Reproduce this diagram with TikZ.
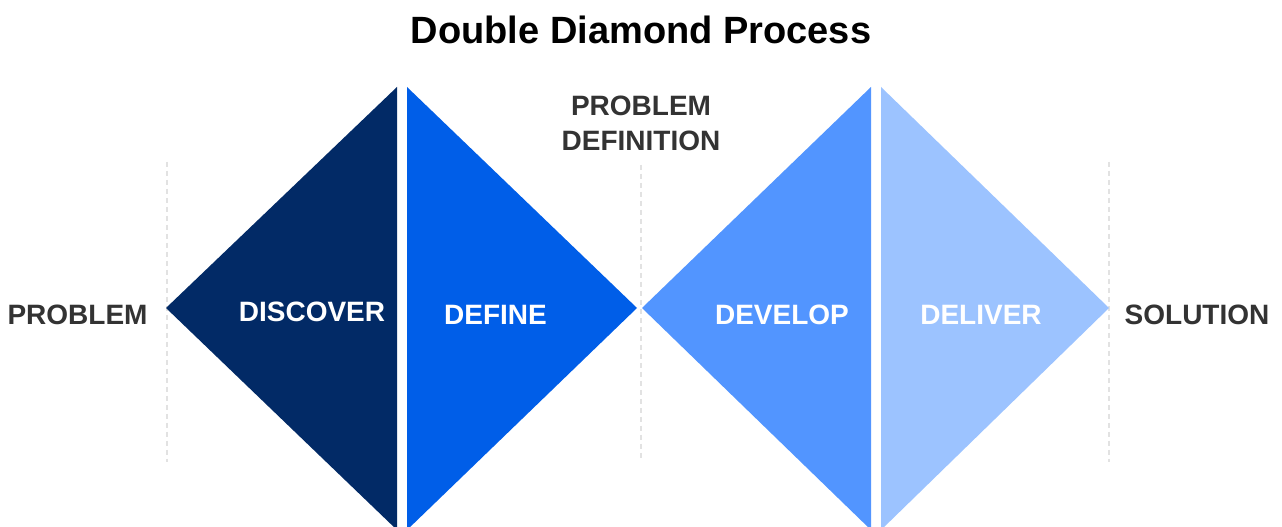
\documentclass[tikz,border=0pt]{standalone}
\usepackage{fontspec}
\setmainfont{Liberation Sans}
\definecolor{cdiscover}{HTML}{022A66}
\definecolor{cdefine}{HTML}{005EE8}
\definecolor{cdevelop}{HTML}{5295FF}
\definecolor{cdeliver}{HTML}{9CC3FF}
\definecolor{ctext}{HTML}{333333}
\definecolor{cguide}{HTML}{E2E2E2}
\tikzset{
  lbl/.style={font=\fontsize{28}{35}\selectfont\bfseries, text=ctext, inner sep=0pt, align=center},
  wlbl/.style={font=\fontsize{28}{35}\selectfont\bfseries, text=white, inner sep=0pt},
  guide/.style={draw=cguide, line width=2pt, dash pattern=on 5pt off 4pt},
}
\begin{document}
\begin{tikzpicture}[x=1pt,y=1pt]
\useasboundingbox (0,0) rectangle (1282,527);
\clip (0,0) rectangle (1282,527);
\fill[white] (0,0) rectangle (1282,527);
% guides
\coordinate (g1t) at (167,365); \coordinate (g1b) at (167,65);
\coordinate (g2t) at (641,362); \coordinate (g2b) at (641,67);
\coordinate (g3t) at (1109,365); \coordinate (g3b) at (1109,65);
\draw[guide] (g1t) -- (g1b);
\draw[guide] (g2t) -- (g2b);
\draw[guide] (g3t) -- (g3b);
% triangles
\fill[cdiscover] (166,219) -- (397,440) -- (397,-3) -- cycle;
\fill[cdefine] (407,440) -- (637,219) -- (407,-3) -- cycle;
\fill[cdevelop] (642,219) -- (871,440) -- (871,-3) -- cycle;
\fill[cdeliver] (881,440) -- (1109,219) -- (881,-3) -- cycle;
% labels
\node[font=\fontsize{38}{44}\selectfont\bfseries, text=black, inner sep=0pt] (title) at (641,497) {Double Diamond Process};
\node[lbl] (problem) at (77.5,212) {PROBLEM};
\node[lbl] (solution) at (1197,212) {SOLUTION};
\node[lbl] (probdef) at (641,404) {PROBLEM\\DEFINITION};
\node[wlbl] (discover) at (312,215) {DISCOVER};
\node[wlbl] (define) at (495.5,212) {DEFINE};
\node[wlbl] (develop) at (782,212) {DEVELOP};
\node[wlbl] (deliver) at (981,212) {DELIVER};
\end{tikzpicture}
\end{document}
